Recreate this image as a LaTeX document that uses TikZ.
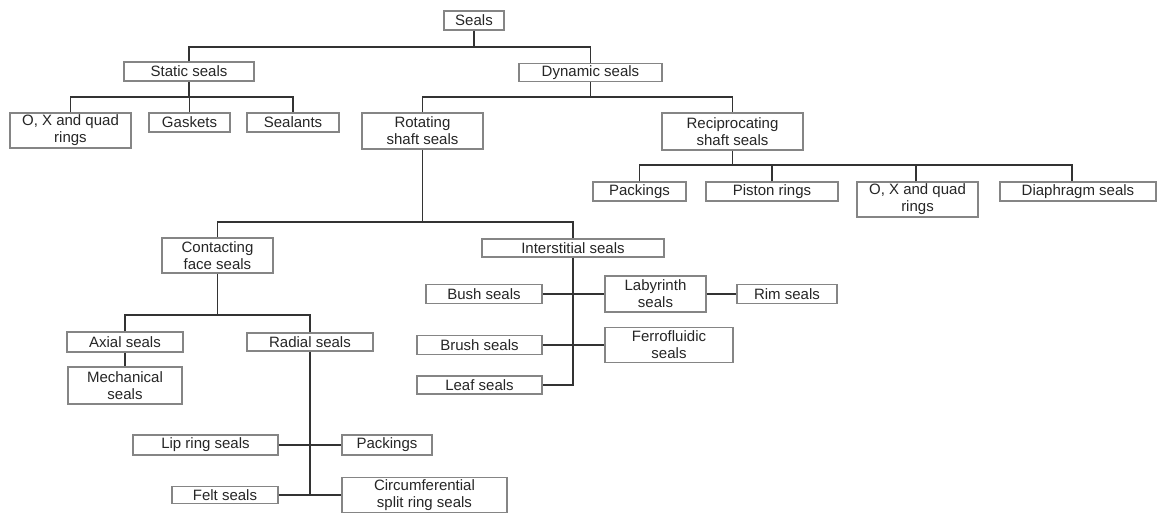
\documentclass[tikz,border=0pt]{standalone}
\usepackage{fontspec}
\setmainfont{Liberation Sans}
\definecolor{linec}{HTML}{333333}
\definecolor{boxc}{HTML}{858585}
\definecolor{textc}{HTML}{262626}
\begin{document}
\begin{tikzpicture}[x=1pt,y=-1pt,
  box/.style={draw=boxc, line width=1.2pt, rectangle, inner sep=1pt, align=center,
    text=textc, font=\fontsize{15}{16.8}\selectfont},
  conn/.style={draw=linec, line width=1.5pt}]
\fill[white] (0,0) rectangle (1160,513);
\useasboundingbox (0,0) rectangle (1160,513);
% level 0-1
\node[box, minimum width=60, minimum height=19] (seals) at (474,20.5) {Seals};
\node[box, minimum width=130, minimum height=19] (static) at (189,71.5) {Static seals};
\node[box, minimum width=143, minimum height=18] (dynamic) at (590.5,72.5) {Dynamic seals};
% static children
\node[box, minimum width=121, minimum height=35] (oxq1) at (70.5,130.5) {O, X and quad\\rings};
\node[box, minimum width=81, minimum height=19] (gaskets) at (189.5,122.5) {Gaskets};
\node[box, minimum width=92, minimum height=19] (sealants) at (293,122.5) {Sealants};
% dynamic children
\node[box, minimum width=121, minimum height=36] (rotating) at (422.5,131) {Rotating\\shaft seals};
\node[box, minimum width=141, minimum height=37] (recip) at (732.5,131.5) {Reciprocating\\shaft seals};
% reciprocating children
\node[box, minimum width=93, minimum height=19] (packings1) at (639.5,191.5) {Packings};
\node[box, minimum width=132, minimum height=19] (piston) at (772,191.5) {Piston rings};
\node[box, minimum width=121, minimum height=35] (oxq2) at (917.5,199.5) {O, X and quad\\rings};
\node[box, minimum width=156, minimum height=19] (diaphragm) at (1078,191.5) {Diaphragm seals};
% rotating children
\node[box, minimum width=111, minimum height=35] (contacting) at (217.5,255.5) {Contacting\\face seals};
\node[box, minimum width=182, minimum height=18] (interstitial) at (573,248) {Interstitial seals};
% contacting children
\node[box, minimum width=116, minimum height=20] (axial) at (125,342) {Axial seals};
\node[box, minimum width=114, minimum height=37] (mechanical) at (125,385.5) {Mechanical\\seals};
\node[box, minimum width=126, minimum height=18] (radial) at (310,342) {Radial seals};
% interstitial children
\node[box, minimum width=116, minimum height=19] (bush) at (484,294) {Bush seals};
\node[box, minimum width=101, minimum height=36] (labyrinth) at (655.5,294) {Labyrinth\\seals};
\node[box, minimum width=100, minimum height=19] (rim) at (787,294) {Rim seals};
\node[box, minimum width=125, minimum height=19] (brush) at (479.5,345) {Brush seals};
\node[box, minimum width=128, minimum height=35] (ferro) at (669,345) {Ferrofluidic\\seals};
\node[box, minimum width=125, minimum height=18] (leaf) at (479.5,385) {Leaf seals};
% radial children
\node[box, minimum width=145, minimum height=20] (lip) at (205.5,445) {Lip ring seals};
\node[box, minimum width=90, minimum height=20] (packings2) at (387,445) {Packings};
\node[box, minimum width=106, minimum height=17] (felt) at (225,495) {Felt seals};
\node[box, minimum width=165, minimum height=35] (circ) at (424.5,495) {Circumferential\\split ring seals};
% junctions
\coordinate (j1) at (474,47);
\coordinate (j2) at (189,97);
\coordinate (j3) at (590.5,97);
\coordinate (j4) at (732.5,165);
\coordinate (j5) at (422.5,222);
\coordinate (j6) at (217.5,315);
% connectors
\draw[conn] (seals.south) -- (j1);
\draw[conn] (static.north) |- (j1) -| (dynamic.north);
\draw[conn] (static.south) -- (j2);
\draw[conn] (oxq1.north) |- (j2) -| (sealants.north);
\draw[conn] (gaskets.north) -- (gaskets.north |- j2);
\draw[conn] (dynamic.south) -- (j3);
\draw[conn] (rotating.north) |- (j3) -| (recip.north);
\draw[conn] (recip.south) -- (j4);
\draw[conn] (packings1.north) |- (j4) -| ([xshift=-6pt]diaphragm.north);
\draw[conn] (piston.north) -- (piston.north |- j4);
\draw[conn] ([xshift=-1.5pt]oxq2.north) -- ([xshift=-1.5pt]oxq2.north |- j4);
\draw[conn] (rotating.south) -- (j5);
\draw[conn] (contacting.north) |- (j5) -| (interstitial.north);
\draw[conn] (contacting.south) -- (j6);
\draw[conn] (axial.north) |- (j6) -| (radial.north);
\draw[conn] (axial) -- (mechanical);
\draw[conn] (radial.south) -- (radial.south |- felt.east);
\draw[conn] (lip) -- (packings2);
\draw[conn] (felt.east) -- (circ.west);
\draw[conn] (interstitial.south) |- (leaf.east);
\draw[conn] (bush.east) -- (labyrinth.west);
\draw[conn] (labyrinth.east) -- (rim.west);
\draw[conn] (brush.east) -- (ferro.west);
\end{tikzpicture}
\end{document}
